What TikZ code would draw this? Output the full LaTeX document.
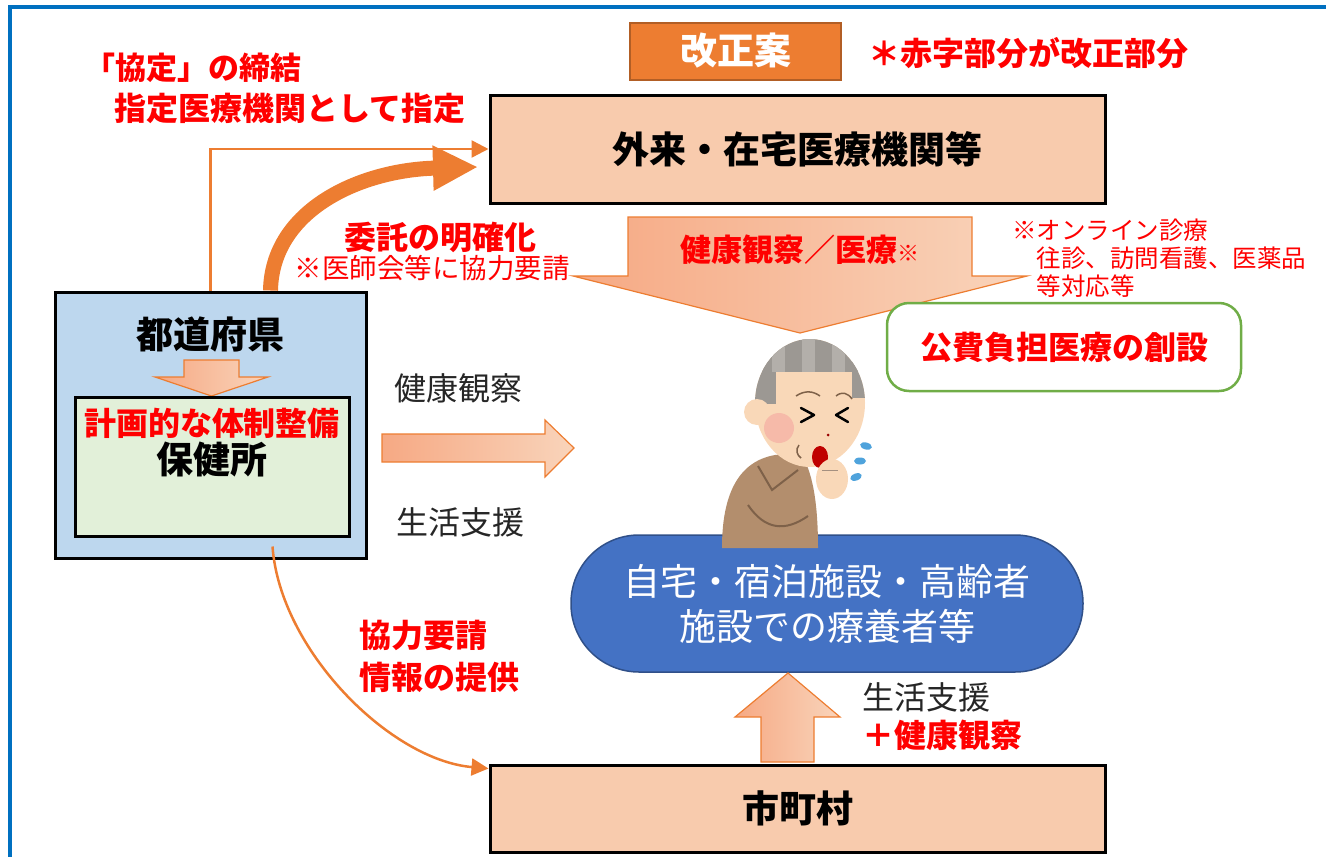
\documentclass[tikz,border=0pt]{standalone}
\usepackage{fontspec}
\setmainfont{Noto Sans CJK JP}
\usetikzlibrary{arrows.meta,calc}

\definecolor{frameblue}{HTML}{0070C0}
\definecolor{kaiorange}{HTML}{ED7D31}
\definecolor{peach}{HTML}{F8CBAD}
\definecolor{salmon}{HTML}{F4B183}
\definecolor{jpred}{HTML}{FF0000}
\definecolor{prefblue}{HTML}{BDD7EE}
\definecolor{hcgreen}{HTML}{E2F0D9}
\definecolor{homeblue}{HTML}{4472C4}
\definecolor{kouhigreen}{HTML}{70AD47}
\definecolor{skin}{HTML}{F9D8B8}
\definecolor{blush}{HTML}{F4A7A0}
\definecolor{hair}{HTML}{9C9893}
\definecolor{hairlight}{HTML}{B3AFAA}
\definecolor{coat}{HTML}{B38E6D}
\definecolor{coatdark}{HTML}{7E6149}
\definecolor{drop}{HTML}{4FA3DC}

\tikzset{
  box/.style={draw=black, line width=3pt, inner sep=0pt},
  bigtext/.style={font=\bfseries\fontsize{37}{44}\selectfont},
  redtext/.style={text=jpred, inner sep=0pt, font=\bfseries\fontsize{32}{38}\selectfont},
  plaintext/.style={text=black!85, inner sep=0pt, font=\fontsize{32}{38}\selectfont},
  blockarrow/.style={draw=kaiorange, line width=1.2pt, left color=salmon!90!red!90, right color=salmon!55},
  link/.style={draw=kaiorange, line width=2.5pt, -{Triangle[length=17pt,width=17pt]}}
}

\begin{document}
\begin{tikzpicture}[x=1pt,y=-1pt]
\useasboundingbox (0,0) rectangle (1326,857);
% frame
\draw[frameblue, line width=4pt] (10,857) -- (10,7) -- (1326,7);

% heading
\node[fill=kaiorange, draw=kaiorange!75!black, line width=2pt, minimum width=211pt, minimum height=57pt,
      text=white, font=\bfseries\fontsize{37}{44}\selectfont] (kaisei) at (735.5,51) {改正案};
\node[redtext] (note) at (1028,53) {＊赤字部分が改正部分};

% main boxes
\node[box, fill=peach, minimum width=615pt, minimum height=108pt, bigtext] (gairai) at (797.5,149) {外来・在宅医療機関等};
\node[box, fill=peach, minimum width=615pt, minimum height=87pt, bigtext] (city) at (797.5,808.5) {市町村};

% prefecture with health centre inside
\node[box, fill=prefblue, minimum width=311pt, minimum height=266pt] (pref) at (210.5,425) {};
\node[bigtext] (prefname) at (210,335) {都道府県};
\path[blockarrow] (184,360) -- (239,360) -- (239,377) -- (268,377) -- (211.5,396) -- (155,377) -- (184,377) -- cycle;
\node[box, fill=hcgreen, minimum width=274pt, minimum height=139pt] (hc) at (212,466.5) {};
\node[redtext] (plan) at (212,423) {計画的な体制整備};
\node[bigtext] (hcname) at (212,460) {保健所};

% agreement / designation
\node[redtext, font=\bfseries\fontsize{31}{36}\selectfont] (agree) at (193,68) {「協定」の締結};
\node[redtext] (designate) at (290,108) {指定医療機関として指定};
\draw[link] (pref.north) |- (gairai.west);

% entrustment
\draw[kaiorange, line width=15pt, -{Triangle[length=45pt,width=42pt]}]
  ($(pref.north)+(60,0)$) .. controls (272,210) and (360,170) .. (478,167);
\node[redtext] (entrust) at (440,237) {委託の明確化};
\node[text=jpred, inner sep=0pt, font=\fontsize{27.5}{32}\selectfont] (askmed) at (432,268) {※医師会等に協力要請};

% care flowing down to the patients
\path[blockarrow] (628,217) -- (972,217) -- (972,276) -- (1027,276) -- (800,333) -- (573,276) -- (628,276) -- cycle;
\node[redtext, font=\bfseries\fontsize{31}{36}\selectfont] (care) at (800,250) {健康観察／医療{\fontsize{22}{26}\selectfont ※}};
\node[text=jpred, inner sep=0pt, align=left, anchor=north west, font=\fontsize{24.5}{28}\selectfont] (online) at (1012,219)
  {※オンライン診療\\\hspace{1em}往診、訪問看護、医薬品\\\hspace{1em}等対応等};
\node[draw=kouhigreen, line width=2.5pt, fill=white, rounded corners=22pt, minimum width=354pt, minimum height=88pt,
      redtext, inner sep=0pt] (kouhi) at (1064,347) {公費負担医療の創設};

% prefecture to patients
\path[blockarrow] (382,434) -- (545,434) -- (545,420) -- (574,448) -- (545,477) -- (545,462) -- (382,462) -- cycle;
\node[plaintext] (obs) at (458,388) {健康観察};
\node[plaintext] (life) at (460,522) {生活支援};

% patients
\node[draw=homeblue!70!black, line width=1.5pt, fill=homeblue, rounded corners=68pt, minimum width=512pt, minimum height=137pt,
      text=white, align=center, font=\fontsize{37}{45}\selectfont] (home) at (827,603.5) {自宅・宿泊施設・高齢者\\施設での療養者等};

% coughing man
\fill[coat] (722,548) .. controls (722,500) and (735,462) .. (775,455) -- (800,452)
  .. controls (812,470) and (818,500) .. (818,548) -- cycle;
\draw[coatdark, line width=2pt] (758,466) -- (772,490) -- (798,470);
\draw[coatdark, line width=2pt] (748,505) .. controls (765,530) and (785,532) .. (808,516);
\fill[skin] (810,403) ellipse [x radius=55, y radius=64];
\begin{scope}
  \clip (810,403) ellipse [x radius=55, y radius=64];
  \fill[hair] (740,330) rectangle (880,372);
  \fill[hair] (740,330) rectangle (776,404);
  \fill[hair] (852,330) rectangle (880,398);
  \foreach \sx in {772,802,832}
    \fill[hairlight] (\sx,330) rectangle ++(13,42);
\end{scope}
\fill[skin] (757,412) circle (13);
\fill[blush, opacity=0.6] (779,428) circle (15);
\draw[black, line width=2.5pt, line cap=round, line join=round] (801,408) -- (814,415) -- (801,422);
\draw[black, line width=2.5pt, line cap=round, line join=round] (848,408) -- (836,415) -- (848,422);
\draw[coatdark, line width=1.5pt] (796,396) .. controls (805,390) and (813,391) .. (820,396);
\draw[coatdark, line width=1.5pt] (836,396) .. controls (842,391) and (848,393) .. (852,399);
\fill[red!60!black] (828,435) circle (1.5);
\draw[coatdark, line width=1.5pt] (799,445) .. controls (795,450) and (797,455) .. (801,458);
\fill[red!75!black] (820,457) ellipse [x radius=8, y radius=11];
\fill[skin] (832,479) ellipse [x radius=16, y radius=20];
\draw[coatdark!70, line width=1pt] (822,470) -- (838,470);
\foreach \dx/\dy/\ang in {866/446/-15, 860/461/0, 856/477/20}
  \fill[drop, rotate around={\ang:(\dx,\dy)}] (\dx,\dy) ellipse [x radius=6, y radius=3.5];

% municipality
\path[blockarrow] (761,762) -- (761,717) -- (735,717) -- (788,673) -- (840,717) -- (814,717) -- (814,762) -- cycle;
\node[plaintext, anchor=west] (life2) at (862,697) {生活支援};
\node[redtext, anchor=west] (plusobs) at (862,735) {＋健康観察};
\draw[link] ($(pref.south)+(62,-13)$) .. controls (280,650) and (390,760) .. ($(city.north west)+(0,5)$);
\node[redtext, anchor=west] (coop) at (359,635) {協力要請};
\node[redtext, anchor=west] (info) at (359,677) {情報の提供};
\end{tikzpicture}
\end{document}
